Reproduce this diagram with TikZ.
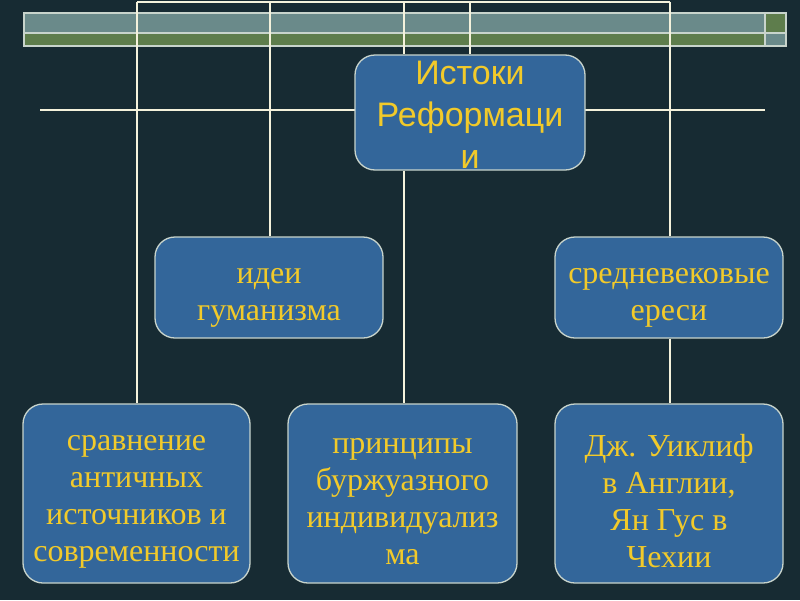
\documentclass[tikz,border=0pt]{standalone}
\usepackage{fontspec}
\setmainfont{Liberation Serif}
\newfontfamily\arialf{Liberation Sans}
\definecolor{bg}{HTML}{172B33}
\definecolor{boxfill}{HTML}{33669A}
\definecolor{txt}{HTML}{F2CA2A}
\definecolor{lin}{HTML}{F4F2DC}
\definecolor{teal}{HTML}{6A8A8A}
\definecolor{olive}{HTML}{5E7D4C}
\definecolor{edge}{HTML}{C8D4CC}
\tikzset{
  boxst/.style={draw=edge, line width=1.3pt, fill=boxfill, rounded corners=20pt, inner sep=0pt},
  txtst/.style={text=txt, align=center, inner sep=0pt, font=\fontsize{32}{37}\selectfont},
  conn/.style={draw=lin, line width=1.6pt},
  barst/.style={draw=edge, line width=1.2pt}
}
\begin{document}
\begin{tikzpicture}[x=1pt,y=-1pt]
\fill[bg] (0,0) rectangle (800,600);
\useasboundingbox (0,0) rectangle (800,600);
% top bar
\fill[teal] (24,13) rectangle (765,33);
\fill[olive] (24,33) rectangle (765,46);
\fill[olive] (765,13) rectangle (786,33);
\fill[teal] (765,33) rectangle (786,46);
\draw[barst] (24,13) rectangle (786,46);
\draw[barst] (24,33) -- (786,33);
\draw[barst] (765,13) -- (765,46);
% coordinates
\coordinate (t1) at (137,2);
\coordinate (t2) at (270,2);
\coordinate (t3) at (404,2);
\coordinate (t4) at (470,2);
\coordinate (t5) at (670,2);
\coordinate (hl) at (40,110);
\coordinate (hr) at (765,110);
\draw[conn] (t1) -- (t5);
\draw[conn] (hl) -- (hr);
% boxes
\node[boxst, minimum width=230pt, minimum height=115pt] (ist) at (470,112.5) {};
\node[boxst, minimum width=228pt, minimum height=101pt] (idei) at (269,287.5) {};
\node[boxst, minimum width=228pt, minimum height=101pt] (ser) at (669,287.5) {};
\node[boxst, minimum width=227pt, minimum height=179pt] (bl) at (136.5,493.5) {};
\node[boxst, minimum width=229pt, minimum height=179pt] (bm) at (402.5,493.5) {};
\node[boxst, minimum width=228pt, minimum height=179pt] (br) at (669,493.5) {};
% texts
\node[txtst, font=\arialf\fontsize{34}{42}\selectfont] (ist-t) at ([yshift=-2pt]ist.center) {Истоки\\Реформаци\\и};
\node[txtst] (idei-t) at ([yshift=-10pt]idei.center) {идеи\\гуманизма};
\node[txtst] (ser-t) at ([yshift=-10pt]ser.center) {средневековые\\ереси};
\node[txtst] (bl-t) at ([yshift=-8pt]bl.center) {сравнение\\античных\\источников и\\современности};
\node[txtst] (bm-t) at ([yshift=-8pt]bm.center) {принципы\\буржуазного\\индивидуализ\\ма};
\node[txtst] (br-t) at ([yshift=-8pt]br.center) {Дж. Уиклиф\\в Англии,\\Ян Гус в\\Чехии};
% connectors
\draw[conn] (t1) -- (t1 |- bl.north);
\draw[conn] (t2) -- (t2 |- idei.north);
\draw[conn] (t3) -- (t3 |- ist.north);
\draw[conn] (t3 |- ist.south) -- (t3 |- bm.north);
\draw[conn] (t4) -- (t4 |- ist.north);
\draw[conn] (t5) -- (t5 |- ser.north);
\draw[conn] (t5 |- ser.south) -- (t5 |- br.north);
\end{tikzpicture}
\end{document}
